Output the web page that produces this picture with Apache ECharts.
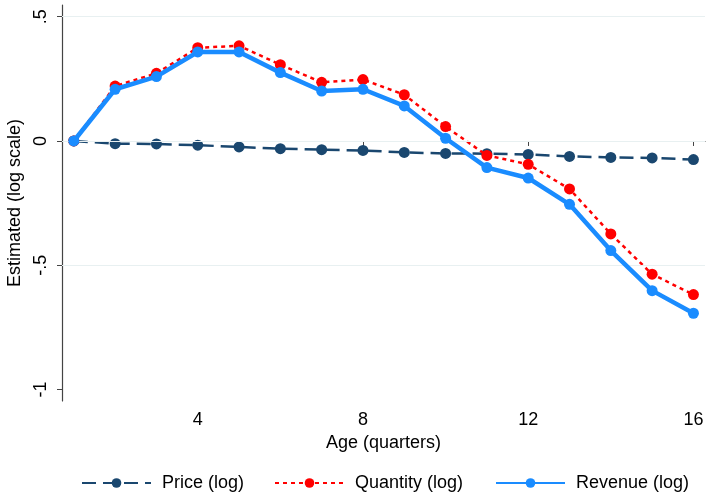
<!DOCTYPE html>
<html>
<head>
<meta charset="utf-8">
<script src="https://cdn.jsdelivr.net/npm/echarts@6/dist/echarts.min.js"></script>
<style>html,body{margin:0;padding:0;background:#fff;}#c{width:706px;height:495px;}</style>
</head>
<body>
<div id="c"></div>
<script>
const ages = [1,2,3,4,5,6,7,8,9,10,11,12,13,14,15,16];
const price = [0,-0.011,-0.012,-0.017,-0.024,-0.031,-0.035,-0.038,-0.046,-0.050,-0.051,-0.054,-0.062,-0.066,-0.068,-0.075];
const quantity = [0,0.221,0.272,0.375,0.383,0.307,0.236,0.247,0.186,0.058,-0.058,-0.094,-0.193,-0.374,-0.536,-0.618];
const revenue = [0,0.208,0.259,0.358,0.358,0.275,0.201,0.208,0.141,0.011,-0.107,-0.149,-0.255,-0.441,-0.602,-0.693];
const xTicks = [4,8,12,16];
const yTicks = [-1,-0.5,0,0.5];
const yGrid = [-0.5,0,0.5];
const seriesNames = ['Price (log)','Quantity (log)','Revenue (log)'];

const FONT = 'Liberation Sans';
const FS = 18;
const pair = (ys) => ages.map((a,i)=>[a, ys[i]]);
const fmtY = v => { if (v===0) return '0'; return String(v).replace('0.', '.'); };

const chart = echarts.init(document.getElementById('c'), null, {renderer:'canvas'});
const legendCommon = {
  top: 469, itemWidth: 69, itemHeight: 12, itemGap: 10,
  textStyle: {fontFamily: FONT, fontSize: FS, color: '#000', padding: [0,0,0,6]}
};
chart.setOption({
  animation: false,
  backgroundColor: '#fff',
  textStyle: {fontFamily: FONT},
  grid: {left: 62, right: 1, top: 5, bottom: 94, containLabel: false, outerBoundsMode: 'none'},
  legend: [
    Object.assign({}, legendCommon, {left: 76, data: [seriesNames[0]]}),
    Object.assign({}, legendCommon, {left: 269, data: [seriesNames[1]]}),
    Object.assign({}, legendCommon, {left: 490, data: [seriesNames[2]]})
  ],
  xAxis: {
    type: 'value', min: 0.714, max: 16.28,
    name: 'Age (quarters)', nameLocation: 'middle', nameGap: 32,
    nameTextStyle: {fontFamily: FONT, fontSize: FS, color: '#000'},
    axisLine: {show: true, lineStyle: {color: '#444', width: 1.2}},
    axisTick: {show: true, length: 5, customValues: xTicks, lineStyle: {color: '#444'}},
    axisLabel: {customValues: xTicks, fontFamily: FONT, fontSize: FS, color: '#000', margin: 10},
    splitLine: {show: false}
  },
  yAxis: {
    type: 'value', min: -1.046, max: 0.547,
    name: 'Estimated (log scale)', nameLocation: 'middle', nameGap: 32, nameRotate: 90,
    nameTextStyle: {fontFamily: FONT, fontSize: FS, color: '#000'},
    axisLine: {show: true, lineStyle: {color: '#444', width: 1.2}},
    axisTick: {show: true, length: 5, customValues: yTicks, lineStyle: {color: '#444'}},
    axisLabel: {customValues: yTicks, rotate: 90, fontFamily: FONT, fontSize: FS, color: '#000', margin: 12, formatter: fmtY},
    splitLine: {show: false}
  },
  series: [
    {
      type: 'line', name: '_grid', data: [], silent: true, z: 1,
      markLine: {
        silent: true, symbol: 'none', label: {show: false},
        lineStyle: {color: '#e8f0f1', width: 1.2, type: 'solid'},
        data: yGrid.map(v => ({yAxis: v}))
      }
    },
    {
      type: 'line', name: seriesNames[0], data: pair(price), z: 3,
      symbol: 'circle', symbolSize: 11,
      itemStyle: {color: '#1a476f'},
      lineStyle: {color: '#1a476f', width: 2.5, type: [14, 7]}
    },
    {
      type: 'line', name: seriesNames[1], data: pair(quantity), z: 4,
      symbol: 'circle', symbolSize: 11,
      itemStyle: {color: '#ff0000'},
      lineStyle: {color: '#ff0000', width: 2.5, type: [4, 4]}
    },
    {
      type: 'line', name: seriesNames[2], data: pair(revenue), z: 5,
      symbol: 'circle', symbolSize: 11,
      itemStyle: {color: '#1a8cff'},
      lineStyle: {color: '#1a8cff', width: 4.5, type: 'solid'}
    }
  ]
});
</script>
</body>
</html>
